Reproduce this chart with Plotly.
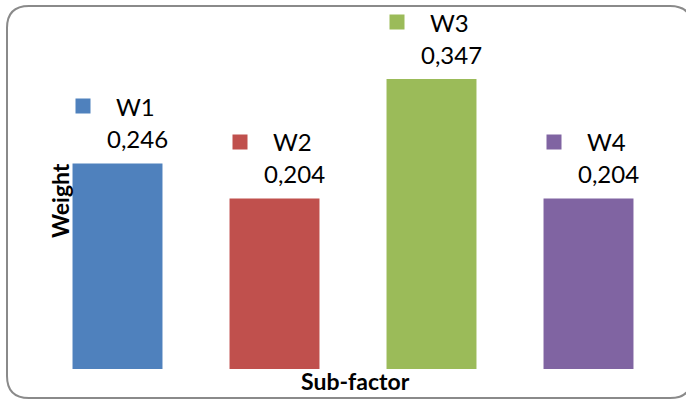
import plotly.graph_objects as go

# Sub-factor weights
categories = ["W1", "W2", "W3", "W4"]
weights = [0.246, 0.204, 0.347, 0.204]
colors = ["#4F81BD", "#C0504D", "#9BBB59", "#8064A2"]

W, H = 686, 400
ML, MR, MT, MB = 39, 19, 20, 31
PW, PH = W - ML - MR, H - MT - MB
Y_MAX = 0.4176


def px(x):
    return (x - ML) / PW


def py(y):
    return (H - MB - y) / PH


fig = go.Figure(
    go.Bar(
        x=categories,
        y=weights,
        marker=dict(color=colors, line=dict(width=0)),
        hoverinfo="skip",
    )
)

FONT = "Lato, 'Open Sans', sans-serif"
annotations = []
for cat, val, col in zip(categories, weights, colors):
    label = f"{val:.3f}".replace(".", ",")
    # colour key square
    annotations.append(dict(
        x=cat, y=val, xref="x", yref="y", text=" ", showarrow=False,
        width=14, height=14, bgcolor=col, borderpad=0,
        xshift=-35, yshift=57,
    ))
    # series name
    annotations.append(dict(
        x=cat, y=val, xref="x", yref="y", text=cat, showarrow=False,
        font=dict(family=FONT, size=24, color="#000"),
        xshift=18, yshift=57,
    ))
    # value label
    annotations.append(dict(
        x=cat, y=val, xref="x", yref="y", text=label, showarrow=False,
        font=dict(family=FONT, size=24, color="#000"),
        xshift=20, yshift=25,
    ))

# axis titles
annotations.append(dict(
    x=px(355), y=py(381), xref="paper", yref="paper", text="<b>Sub-factor</b>",
    showarrow=False, font=dict(family=FONT, size=23, color="#000"),
    xanchor="center", yanchor="middle",
))
annotations.append(dict(
    x=px(60), y=py(201), xref="paper", yref="paper", text="<b>Weight</b>",
    showarrow=False, textangle=-90, font=dict(family=FONT, size=23, color="#000"),
    xanchor="center", yanchor="middle",
))

# rounded chart border
x0, x1, y0, y1, r = 7, 692, 6, 398, 22
path = (
    f"M {px(x0 + r)},{py(y0)} L {px(x1 - r)},{py(y0)} "
    f"Q {px(x1)},{py(y0)} {px(x1)},{py(y0 + r)} "
    f"L {px(x1)},{py(y1 - r)} Q {px(x1)},{py(y1)} {px(x1 - r)},{py(y1)} "
    f"L {px(x0 + r)},{py(y1)} Q {px(x0)},{py(y1)} {px(x0)},{py(y1 - r)} "
    f"L {px(x0)},{py(y0 + r)} Q {px(x0)},{py(y0)} {px(x0 + r)},{py(y0)} Z"
)

fig.update_layout(
    width=W, height=H,
    margin=dict(l=ML, r=MR, t=MT, b=MB),
    paper_bgcolor="white", plot_bgcolor="white",
    bargap=0.427,
    showlegend=False,
    xaxis=dict(showticklabels=False, showgrid=False, zeroline=False,
               showline=False, ticks=""),
    yaxis=dict(range=[0, Y_MAX], showticklabels=False, showgrid=False,
               zeroline=False, showline=False, ticks=""),
    annotations=annotations,
    shapes=[dict(type="path", path=path, xref="paper", yref="paper",
                 line=dict(color="#8a8a8a", width=2), layer="above")],
)

fig.write_html("out.html")
